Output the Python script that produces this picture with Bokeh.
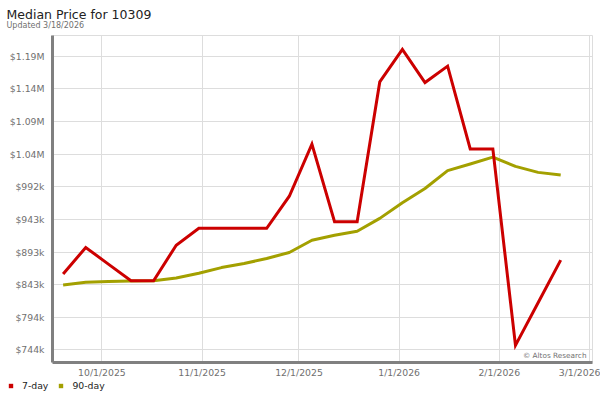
from datetime import datetime, timezone
from bokeh.plotting import figure
from bokeh.layouts import column
from bokeh.models import Range1d, FixedTicker, Label, Legend, LegendItem, Title
from bokeh.embed import file_html
from bokeh.resources import INLINE

# ---------------- data ----------------
title_text = "Median Price for 10309"
subtitle_text = "Updated 3/18/2026"
credit_text = "\u00a9 Altos Research"

dates = ["2025-09-19", "2025-09-26", "2025-10-03", "2025-10-10", "2025-10-17",
         "2025-10-24", "2025-10-31", "2025-11-07", "2025-11-14", "2025-11-21",
         "2025-11-28", "2025-12-05", "2025-12-12", "2025-12-19", "2025-12-26",
         "2026-01-02", "2026-01-09", "2026-01-16", "2026-01-23", "2026-01-30",
         "2026-02-06", "2026-02-13", "2026-02-20"]

price_7day = [859600, 900000, 874700, 849400, 849400, 903400, 929200, 929200,
              929200, 929200, 978000, 1057300, 939300, 939300, 1152000, 1201400,
              1151000, 1176000, 1050000, 1050000, 751000, 815800, 880700]

price_90day = [842900, 847000, 848200, 849000, 849400, 853500, 860800, 869400,
               875500, 883300, 892400, 911000, 918600, 924600, 944300, 968000,
               989700, 1016900, 1027000, 1037600, 1023400, 1014300, 1010400]

y_ticks = [744000, 793650, 843300, 892950, 942600, 992250, 1041900, 1091550,
           1141200, 1190850]
y_tick_labels = ["$744k", "$794k", "$843k", "$893k", "$943k", "$992k",
                 "$1.04M", "$1.09M", "$1.14M", "$1.19M"]

x_tick_dates = ["2025-10-01", "2025-11-01", "2025-12-01", "2026-01-01",
                "2026-02-01", "2026-03-01"]
x_tick_labels = ["10/1/2025", "11/1/2025", "12/1/2025", "1/1/2026",
                 "2/1/2026", "3/1/2026"]

series_names = ["7-day", "90-day"]
series_colors = ["#cc0000", "#a3a000"]


def ms(s):
    return datetime.strptime(s, "%Y-%m-%d").replace(tzinfo=timezone.utc).timestamp() * 1000.0


DAY = 86400000.0
FONT = "DejaVu Sans"

xs = [ms(d) for d in dates]
x_ticks = [ms(d) for d in x_tick_dates]
oct1 = x_ticks[0]

p = figure(width=600, height=380, x_axis_type="datetime",
           output_backend="svg", toolbar_location=None, title=None,
           x_range=Range1d(oct1 - 15.29 * DAY, oct1 + 151.84 * DAY),
           y_range=Range1d(724940, 1222617),
           min_border_left=52, min_border_right=8, min_border_top=35,
           min_border_bottom=16)

p.background_fill_color = "white"
p.border_fill_color = "white"
p.outline_line_color = "#dddddd"
p.outline_line_width = 1

# grids
p.xgrid.grid_line_color = "#dddddd"
p.ygrid.grid_line_color = "#dddddd"
p.xgrid.grid_line_width = 1
p.ygrid.grid_line_width = 1

# axes
p.xaxis.ticker = FixedTicker(ticks=x_ticks)
p.xaxis.major_label_overrides = {t: l for t, l in zip(x_ticks, x_tick_labels)}
p.yaxis.ticker = FixedTicker(ticks=y_ticks)
p.yaxis.major_label_overrides = {t: l for t, l in zip(y_ticks, y_tick_labels)}
for ax in (p.xaxis, p.yaxis):
    ax.axis_line_color = "#808080"
    ax.axis_line_width = 3
    ax.major_tick_line_color = None
    ax.minor_tick_line_color = None
    ax.major_tick_out = 0
    ax.major_tick_in = 0
    ax.major_label_text_font = FONT
    ax.major_label_text_font_size = "9.3px"
    ax.major_label_text_color = "#707070"
p.yaxis.major_label_standoff = 8
p.xaxis.major_label_standoff = 4

# lines
r90 = p.line(xs, price_90day, line_color=series_colors[1], line_width=3,
             line_join="round")
r7 = p.line(xs, price_7day, line_color=series_colors[0], line_width=3,
            line_join="miter")

# titles (first added sits nearest the plot)
p.add_layout(Title(text=subtitle_text, text_font=FONT, text_font_size="8px",
                   text_color="#707070", text_font_style="normal",
                   align="left", vertical_align="top", standoff=5.6,
                   offset=-46), "above")
p.add_layout(Title(text=title_text, text_font=FONT, text_font_size="12.5px",
                   text_color="#222222", text_font_style="normal",
                   align="left", vertical_align="top", standoff=-11,
                   offset=-46), "above")

# credit inside plot
p.add_layout(Label(x=534, y=7.3, x_units="screen", y_units="screen",
                   text=credit_text, text_font=FONT, text_font_size="7.3px",
                   text_color="#707070", text_baseline="alphabetic",
                   text_align="right"))

# ---------------- legend strip ----------------
lg = figure(width=600, height=20, output_backend="svg", toolbar_location=None,
            x_axis_location=None, y_axis_location=None, title=None,
            x_range=Range1d(0, 1), y_range=Range1d(0, 1),
            min_border=0)
lg.outline_line_color = None
lg.grid.visible = False
lg.background_fill_color = "white"
lg.border_fill_color = "white"
for fig in (p, lg):
    if "frame_align" in fig.properties():
        fig.frame_align = False

sw = []
for c in series_colors:
    # a single point outside the visible range: only its legend swatch shows
    sw.append(lg.scatter(x=[-5], y=[-5], marker="square", size=4.4,
                         fill_color=c, line_color=None))

legend = Legend(items=[LegendItem(label=n, renderers=[r]) for n, r in zip(series_names, sw)],
                location=(5, 9), orientation="horizontal",
                padding=0, margin=0, spacing=7, label_standoff=6,
                glyph_width=11, glyph_height=11, label_height=11,
                border_line_color=None, background_fill_alpha=0,
                label_text_font=FONT, label_text_font_size="9.3px",
                label_text_color="#222222")
lg.add_layout(legend)

layout = column(p, lg, spacing=0)
open("out.html", "w").write(file_html(layout, INLINE))
